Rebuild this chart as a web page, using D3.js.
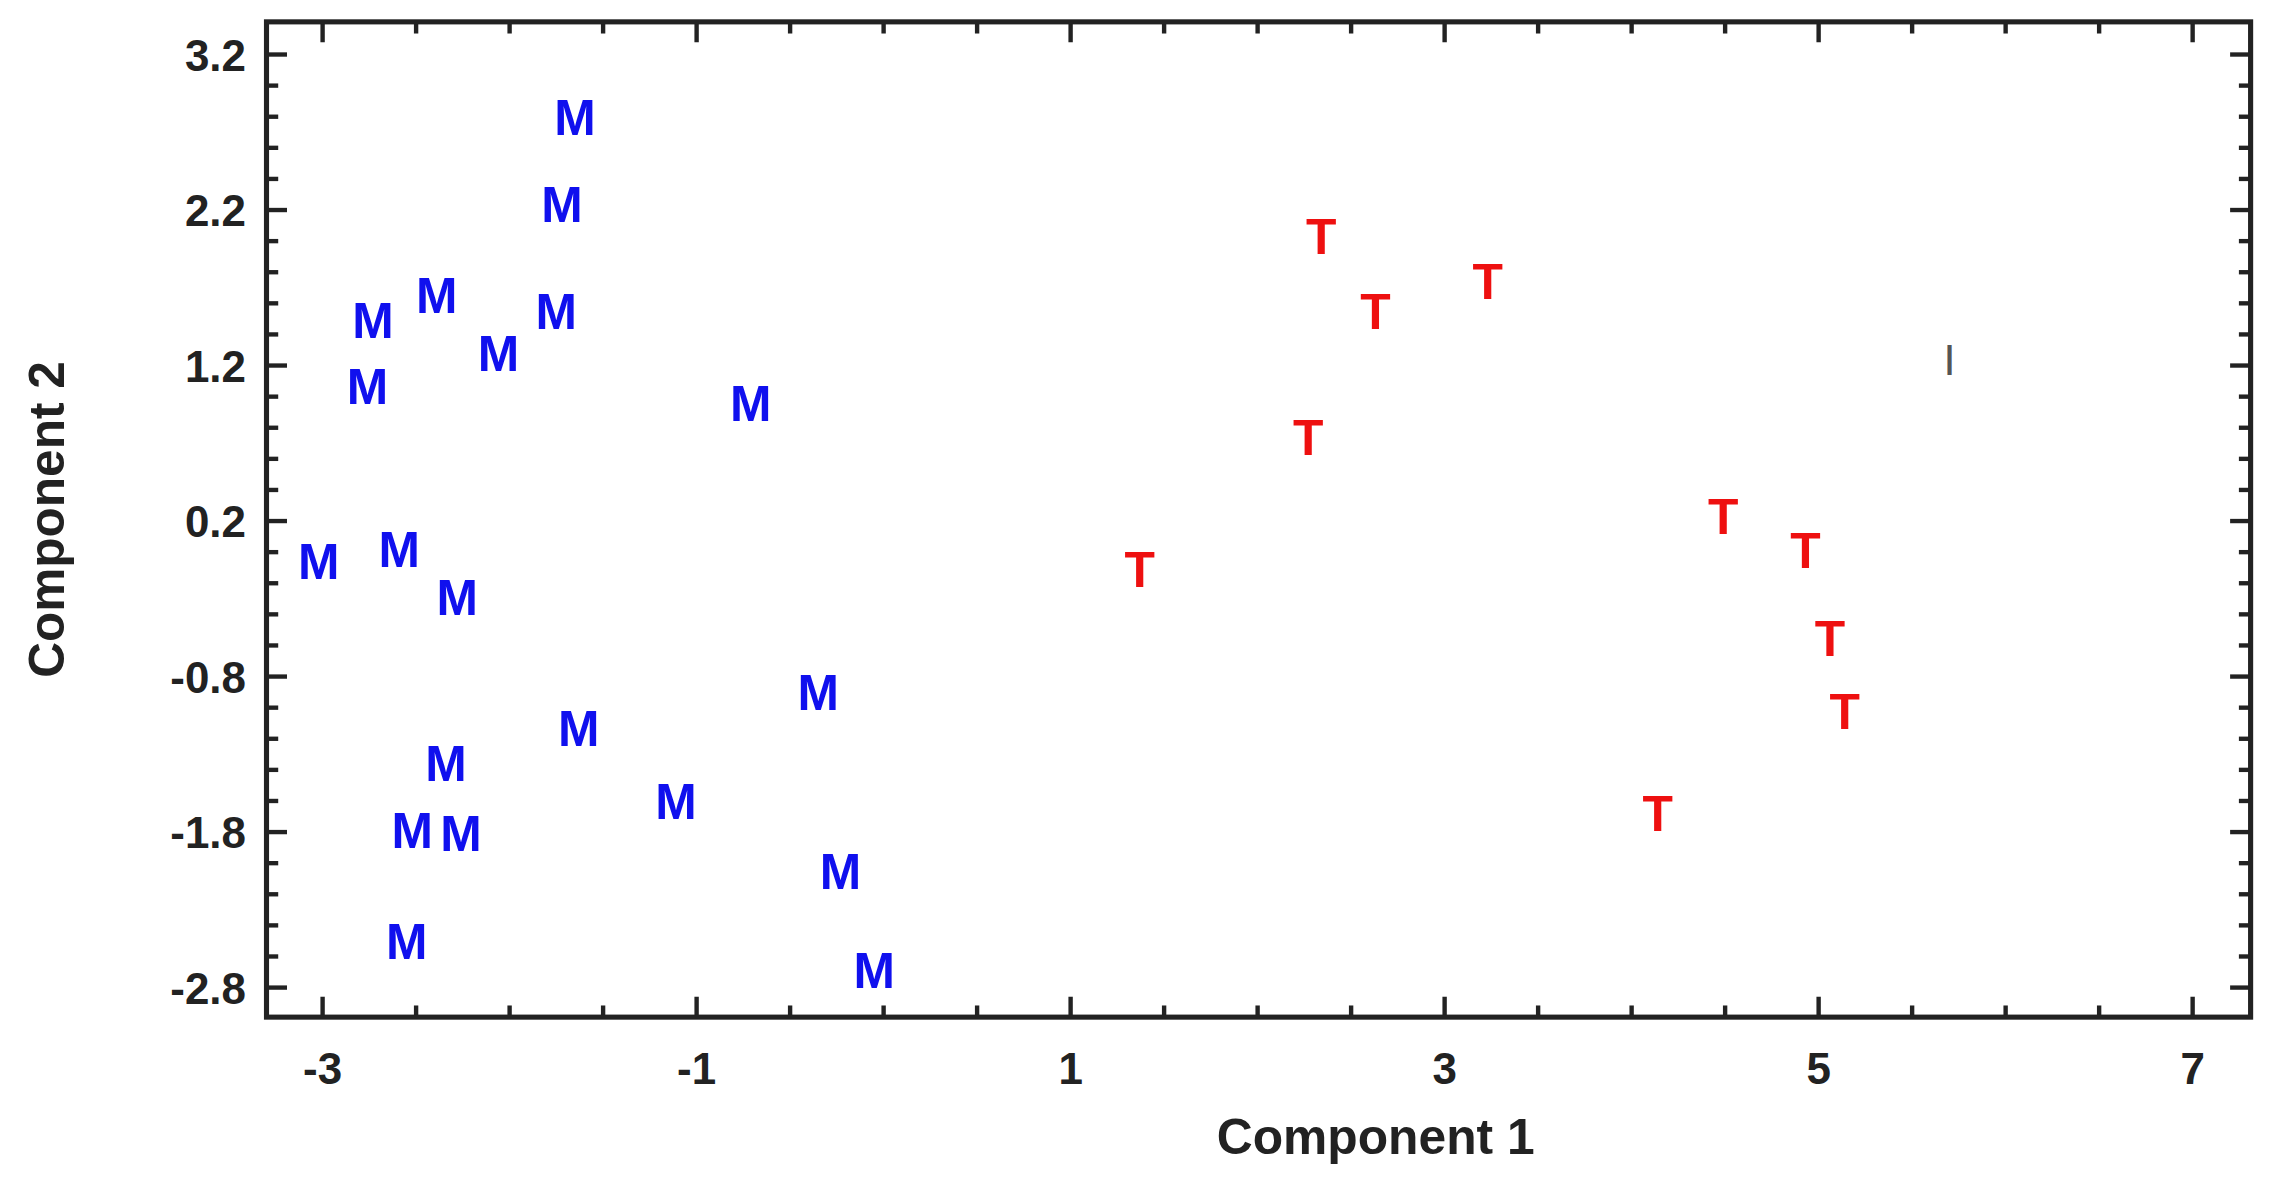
<!DOCTYPE html>
<html>
<head>
<meta charset="utf-8">
<script src="https://cdn.jsdelivr.net/npm/d3@7"></script>
<style>
  html, body { margin: 0; padding: 0; background: #fff; }
  svg { display: block; }
  text { font-family: "Liberation Sans", Arial, sans-serif; font-weight: bold; }
</style>
</head>
<body>
<script>
// group M
const mX = [-1.65, -1.72, -1.75, -2.39, -2.73, -2.06, -2.76, -0.71, -3.02, -2.59, -2.28, -0.35, -1.63, -2.34, -1.11, -2.52, -2.26, -0.23, -2.55, -0.05];
const mY = [2.80, 2.24, 1.55, 1.65, 1.49, 1.28, 1.07, 0.96, -0.06, 0.02, -0.29, -0.90, -1.13, -1.36, -1.60, -1.79, -1.81, -2.05, -2.50, -2.69];
// group T
const tX = [2.34, 3.23, 2.63, 2.27, 4.49, 1.37, 4.93, 5.06, 5.14, 4.14];
const tY = [2.03, 1.74, 1.55, 0.74, 0.23, -0.11, 0.01, -0.55, -1.02, -1.68];
// stray mark
const oX = [5.70];
const oY = [1.26];

const xTicks = [-3, -1, 1, 3, 5, 7];
const yTicks = [3.2, 2.2, 1.2, 0.2, -0.8, -1.8, -2.8];

const W = 1568, H = 818;
const svg = d3.select('body').append('svg')
  .attr('width', 2296).attr('height', 1192)
  .attr('viewBox', `0 0 ${W} ${H}`)
  .attr('preserveAspectRatio', 'none');

const pLeft = 182, pRight = 1537, pTop = 15, pBottom = 698;
const x = d3.scaleLinear().domain([-3.30, 7.31]).range([pLeft, pRight]);
const y = d3.scaleLinear().domain([-2.99, 3.41]).range([pBottom, pTop]);

const g = svg.append('g');

// minor ticks every 0.5 on x, 0.2 on y, all four sides, inward
const xMinor = d3.range(-3, 7.01, 0.5);
const yMinor = d3.range(-2.8, 3.21, 0.2);

xMinor.forEach(v => {
  const major = xTicks.some(t => Math.abs(t - v) < 1e-6);
  const len = major ? 14 : 8;
  g.append('line').attr('x1', x(v)).attr('x2', x(v)).attr('y1', pBottom).attr('y2', pBottom - len)
    .attr('stroke', '#222').attr('stroke-width', 3);
  g.append('line').attr('x1', x(v)).attr('x2', x(v)).attr('y1', pTop).attr('y2', pTop + len)
    .attr('stroke', '#222').attr('stroke-width', 3);
});
yMinor.forEach(v => {
  const major = yTicks.some(t => Math.abs(t - v) < 1e-6);
  const len = major ? 14 : 8;
  g.append('line').attr('y1', y(v)).attr('y2', y(v)).attr('x1', pLeft).attr('x2', pLeft + len)
    .attr('stroke', '#222').attr('stroke-width', 3);
  g.append('line').attr('y1', y(v)).attr('y2', y(v)).attr('x1', pRight).attr('x2', pRight - len)
    .attr('stroke', '#222').attr('stroke-width', 3);
});

g.append('rect').attr('x', pLeft).attr('y', pTop).attr('width', pRight - pLeft).attr('height', pBottom - pTop)
  .attr('fill', 'none').attr('stroke', '#222').attr('stroke-width', 3.5);

// tick labels
g.selectAll('.xl').data(xTicks).join('text')
  .attr('x', d => x(d)).attr('y', pBottom + 46)
  .attr('text-anchor', 'middle').attr('font-size', 30).attr('fill', '#222')
  .text(d => d);
g.selectAll('.yl').data(yTicks).join('text')
  .attr('x', pLeft - 14).attr('y', d => y(d) + 11)
  .attr('text-anchor', 'end').attr('font-size', 30).attr('fill', '#222')
  .text(d => d.toFixed(1));

// axis titles
svg.append('text').attr('x', (pLeft + pRight) / 2 + 80).attr('y', 792)
  .attr('text-anchor', 'middle').attr('font-size', 34).attr('fill', '#222').text('Component 1');
svg.append('text').attr('transform', `translate(44, ${(pTop + pBottom) / 2}) rotate(-90)`)
  .attr('text-anchor', 'middle').attr('font-size', 34).attr('fill', '#222').text('Component  2');

// points as letters
const draw = (xs, ys, label, color, size) => {
  g.append('g').selectAll('text').data(xs).join('text')
    .attr('x', (d) => x(d)).attr('y', (d, i) => y(ys[i]) + size * 0.36)
    .attr('text-anchor', 'middle').attr('font-size', size).attr('fill', color)
    .text(label);
};
draw(mX, mY, 'M', '#1010ee', 34);
draw(tX, tY, 'T', '#ee1010', 34);
draw(oX, oY, '|', '#555', 22);
</script>
</body>
</html>
